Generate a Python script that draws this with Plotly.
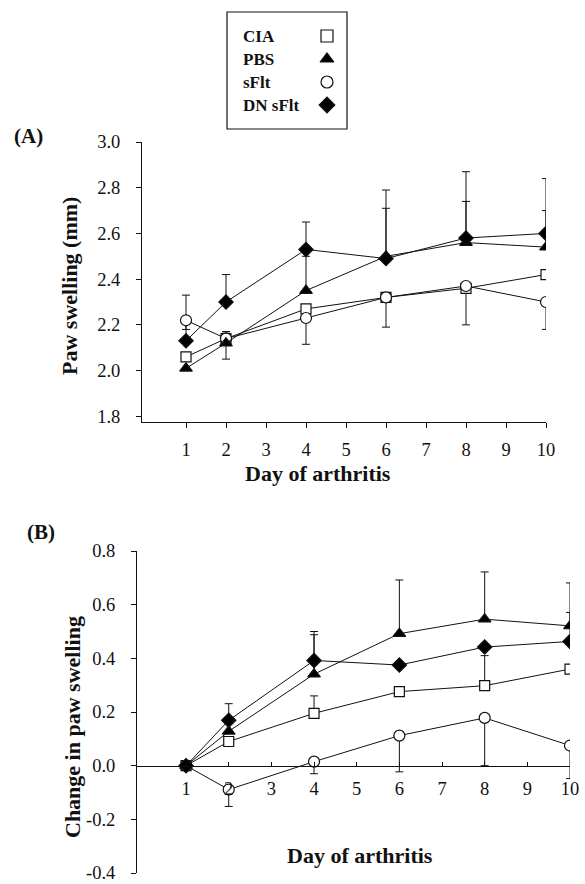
import plotly.graph_objects as go

W, H = 585, 884

# ---------------- data ----------------
days = [1, 2, 4, 6, 8, 10]
series = ["CIA", "PBS", "sFlt", "DN sFlt"]

# Panel A: paw swelling (mm)
a_cia = [2.06, 2.14, 2.27, 2.32, 2.36, 2.42]
a_pbs = [2.01, 2.12, 2.35, 2.50, 2.56, 2.54]
a_sflt = [2.22, 2.14, 2.23, 2.32, 2.37, 2.30]
a_dn = [2.13, 2.30, 2.53, 2.49, 2.58, 2.60]

a_cia_up = [None, 0.03, None, None, None, None]
a_cia_dn = [None, None, None, None, None, None]
a_pbs_up = [None, 0.05, 0.15, 0.21, 0.18, 0.16]
a_pbs_dn = [None, 0.07, None, None, None, None]
a_sflt_up = [None, None, None, None, None, None]
a_sflt_dn = [0.04, None, 0.115, 0.13, 0.17, 0.12]
a_dn_up = [0.20, 0.12, 0.12, 0.30, 0.29, 0.24]
a_dn_dn = [None, None, None, None, None, None]

# Panel B: change in paw swelling
b_cia = [0.0, 0.09, 0.195, 0.276, 0.298, 0.36]
b_pbs = [0.0, 0.128, 0.341, 0.492, 0.546, 0.521]
b_sflt = [0.0, -0.089, 0.015, 0.112, 0.178, 0.075]
b_dn = [0.0, 0.169, 0.392, 0.375, 0.442, 0.463]

b_cia_up = [None, None, 0.065, None, 0.112, None]
b_cia_dn = [None, None, None, None, None, None]
b_pbs_up = [None, None, 0.147, 0.20, 0.176, 0.16]
b_pbs_dn = [None, None, None, None, None, None]
b_sflt_up = [None, None, None, None, None, None]
b_sflt_dn = [None, 0.063, 0.045, 0.135, 0.178, 0.123]
b_dn_up = [None, 0.062, 0.108, None, None, 0.108]
b_dn_dn = [None, None, None, None, None, None]

x_ticks = [1, 2, 3, 4, 5, 6, 7, 8, 9, 10]
a_yticks = [1.8, 2.0, 2.2, 2.4, 2.6, 2.8, 3.0]
a_yticklabels = ["1.8", "2.0", "2.2", "2.4", "2.6", "2.8", "3.0"]
b_yticks = [-0.4, -0.2, 0.0, 0.2, 0.4, 0.6, 0.8]
b_yticklabels = ["-0.4", "-0.2", "0.0", "0.2", "0.4", "0.6", "0.8"]

# ---------------- styling ----------------
symbols = {"CIA": "square", "PBS": "triangle-up", "sFlt": "circle", "DN sFlt": "diamond"}
fills = {"CIA": "white", "PBS": "black", "sFlt": "white", "DN sFlt": "black"}
sizes = {"CIA": 10, "PBS": 11, "sFlt": 11, "DN sFlt": 11}
FONT = "Liberation Serif, Times New Roman, serif"
INK = "#111111"


def px(x):
    return x / W


def py(y):
    return 1 - y / H


fig = go.Figure()


def add_panel(xa, ya, data):
    # error bars first (beneath markers)
    for name, vals, up, dn in data:
        idx = [i for i in range(len(days)) if up[i] is not None or dn[i] is not None]
        if idx:
            fig.add_trace(go.Scatter(
                x=[days[i] for i in idx], y=[vals[i] for i in idx],
                mode="markers", marker=dict(size=1, opacity=0),
                error_y=dict(type="data", symmetric=False,
                             array=[up[i] or 0 for i in idx],
                             arrayminus=[dn[i] or 0 for i in idx],
                             color=INK, thickness=1, width=4),
                xaxis=xa, yaxis=ya, showlegend=False, hoverinfo="skip"))
    for name, vals, up, dn in data:
        fig.add_trace(go.Scatter(
            x=days, y=vals, mode="lines+markers", name=name,
            line=dict(color=INK, width=1),
            marker=dict(symbol=symbols[name], size=sizes[name], color=fills[name],
                        line=dict(color=INK, width=1.2)),
            xaxis=xa, yaxis=ya, showlegend=False))


add_panel("x", "y", [
    ("CIA", a_cia, a_cia_up, a_cia_dn),
    ("sFlt", a_sflt, a_sflt_up, a_sflt_dn),
    ("PBS", a_pbs, a_pbs_up, a_pbs_dn),
    ("DN sFlt", a_dn, a_dn_up, a_dn_dn),
])
add_panel("x2", "y2", [
    ("CIA", b_cia, b_cia_up, b_cia_dn),
    ("sFlt", b_sflt, b_sflt_up, b_sflt_dn),
    ("PBS", b_pbs, b_pbs_up, b_pbs_dn),
    ("DN sFlt", b_dn, b_dn_up, b_dn_dn),
])

# legend symbols on a small categorical axis
fig.add_trace(go.Scatter(
    x=[0] * len(series), y=series, mode="markers",
    marker=dict(symbol=[symbols[s] for s in series], size=12,
                color=[fills[s] for s in series], line=dict(color=INK, width=1.2)),
    xaxis="x3", yaxis="y3", showlegend=False, hoverinfo="skip"))

tickfont = dict(family=FONT, size=18.5, color=INK)
common = dict(showgrid=False, zeroline=False, showline=True, linecolor=INK,
              linewidth=1, tickcolor=INK, tickwidth=1, tickfont=tickfont, automargin=False)

# Panel geometry (pixels)
A_L, A_R, A_T, A_B = 142, 546, 142, 422
B_L, B_R, B_T, B_B = 137, 570, 551, 873
b_yrange = [-0.4, 0.8]
b_ydom = [py(B_B), py(B_T)]
b_xpos = b_ydom[0] + (0 - b_yrange[0]) / (b_yrange[1] - b_yrange[0]) * (b_ydom[1] - b_ydom[0])

fig.update_layout(
    width=W, height=H, margin=dict(l=0, r=0, t=0, b=0),
    paper_bgcolor="white", plot_bgcolor="white", showlegend=False,
    font=dict(family=FONT, color=INK),
    xaxis=dict(domain=[px(A_L), px(A_R)], range=[-0.1, 10], anchor="y",
               tickvals=x_ticks, ticks="outside", ticklen=5, ticklabelstandoff=6, **common),
    yaxis=dict(domain=[py(A_B), py(A_T)], range=[1.775, 3.0], anchor="x",
               tickvals=a_yticks, ticktext=a_yticklabels, ticks="outside", ticklen=5,
               ticklabelstandoff=12, **common),
    xaxis2=dict(domain=[px(B_L), px(B_R)], range=[-0.15, 10], anchor="free",
                position=b_xpos, tickvals=x_ticks, ticks="inside", ticklen=4,
                ticklabelstandoff=6, **common),
    yaxis2=dict(domain=b_ydom, range=b_yrange, anchor="x2",
                tickvals=b_yticks, ticktext=b_yticklabels, ticks="outside", ticklen=5,
                ticklabelstandoff=12, **common),
    xaxis3=dict(domain=[px(318), px(336)], range=[-1, 1], visible=False, fixedrange=True),
    yaxis3=dict(domain=[py(116.5), py(24.5)], range=[3.5, -0.5], type="category",
                categoryorder="array", categoryarray=series, visible=False, anchor="x3"),
)

fig.add_shape(type="rect", xref="paper", yref="paper",
              x0=px(227), x1=px(347), y0=py(129), y1=py(12),
              line=dict(color=INK, width=1.2), fillcolor="rgba(0,0,0,0)")

for s in series:
    fig.add_annotation(text=f"<b>{s}</b>", xref="paper", yref="y3", x=px(241), y=s,
                       xanchor="left", yanchor="middle", showarrow=False,
                       font=dict(family=FONT, size=17, color=INK))

anns = [
    ("<b>(A)</b>", 28, 136, 0, 21),
    ("<b>(B)</b>", 41, 532, 0, 21),
    ("<b>Paw swelling (mm)</b>", 70, 286, -90, 22),
    ("<b>Change in paw swelling</b>", 72, 727, -90, 22),
    ("<b>Day of arthritis</b>", 318, 473, 0, 22),
    ("<b>Day of arthritis</b>", 360, 855, 0, 22),
]
for t, x, y, ang, sz in anns:
    fig.add_annotation(text=t, xref="paper", yref="paper", x=px(x), y=py(y),
                       xanchor="center", yanchor="middle", showarrow=False,
                       textangle=ang, font=dict(family=FONT, size=sz, color=INK))

fig.write_html("out.html", config={"displayModeBar": False},
               post_script="document.body.style.margin='0';document.body.style.overflow='hidden';")
